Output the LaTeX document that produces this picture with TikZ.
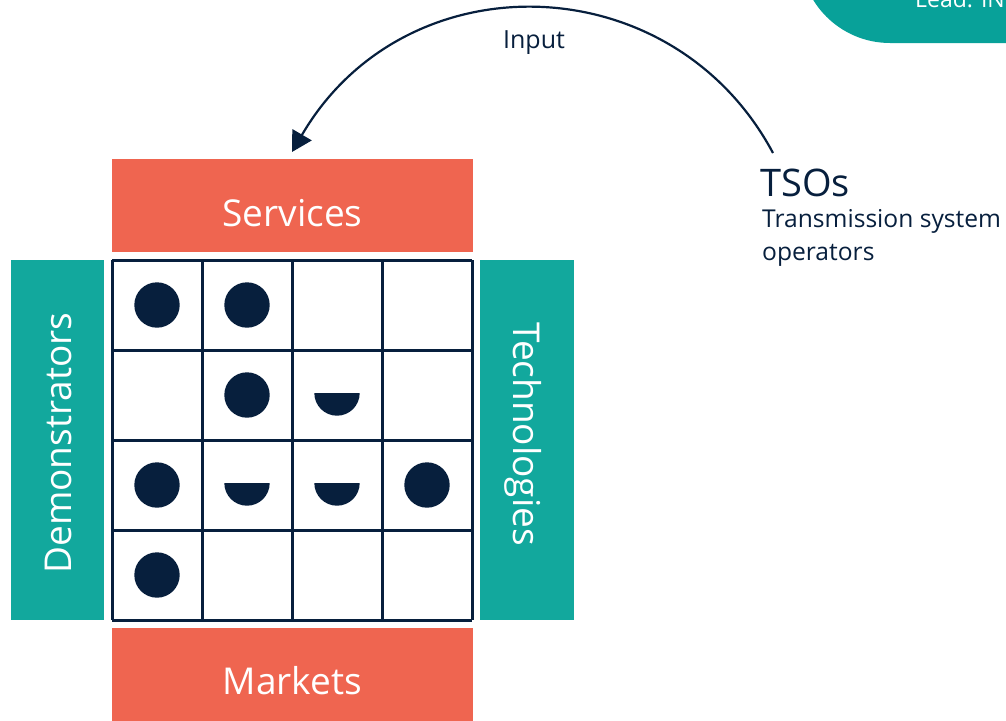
\documentclass[tikz,border=0pt]{standalone}
\usepackage{fontspec}
\setmainfont{Open Sans}
\usetikzlibrary{arrows.meta}
\definecolor{teal1}{RGB}{18,168,157}
\definecolor{teal2}{RGB}{8,161,153}
\definecolor{orng}{RGB}{239,101,80}
\definecolor{navy}{RGB}{7,31,61}
\tikzset{
  bar/.style={fill=orng, draw=none},
  side/.style={fill=teal1, draw=none},
  lbl/.style={text=white, font=\fontsize{37}{40}\selectfont, inner sep=0pt},
  cellline/.style={draw=navy, line width=3pt},
  full/.style={fill=navy, draw=none},
}
\begin{document}
\begin{tikzpicture}[x=1pt,y=-1pt]
\useasboundingbox (0,0) rectangle (1006,720);
\clip (0,0) rectangle (1006,720);
% top-right lead shape
\fill[teal2, rounded corners=90pt] (800,-200) rectangle (1150,43);
\node[anchor=base west, text=white, inner sep=0pt, font=\fontsize{23}{26}\selectfont] (lead) at (915,7) {Lead: IN};
% bars
\fill[bar] (112,159) rectangle (473,252);
\node[lbl, anchor=base] (services) at (292.5,226) {Services};
\fill[bar] (112,628) rectangle (473,722);
\node[lbl, anchor=base] (markets) at (292.5,694) {Markets};
\fill[side] (11,260) rectangle (104,620);
\node[lbl, rotate=90, anchor=base] (demo) at (71,443) {Demonstrators};
\fill[side] (480,260) rectangle (574,620);
\node[lbl, rotate=-90, anchor=base] (tech) at (513,434) {Technologies};
% grid
\foreach \i in {0,...,4} {
  \draw[cellline] ({112+90*\i},260) -- ({112+90*\i},620);
  \draw[cellline] (112,{260+90*\i}) -- (472,{260+90*\i});
}
% full circles
\foreach \c/\r in {0/0,1/0,1/1,0/2,3/2,0/3} {
  \fill[full] ({157+90*\c},{305+90*\r}) circle (22.7);
}
% half circles (flat side up)
\foreach \c/\r in {2/1,1/2,2/2} {
  \fill[full] ({157+90*\c-22.7},{303+90*\r}) arc[start angle=180, end angle=0, radius=22.7] -- cycle;
}
% TSOs
\node[anchor=base west, text=navy, inner sep=0pt, font=\fontsize{38}{40}\selectfont] (tso) at (760,196) {TSOs};
\node[anchor=base west, text=navy, inner sep=0pt, align=left, font=\fontsize{24.6}{33}\selectfont] (tsodesc) at (762,260) {Transmission system\\operators};
% arrow
\coordinate (astart) at (773,153);
\coordinate (aend) at (292,152);
\draw[navy, line width=2.2pt, -{Triangle[length=20pt,width=22pt]}] (astart) .. controls (672,-36) and (405,-42) .. (aend);
\node[text=navy, font=\fontsize{25}{27}\selectfont, anchor=base, inner sep=0pt] (input) at (534,48) {Input};
\end{tikzpicture}
\end{document}
